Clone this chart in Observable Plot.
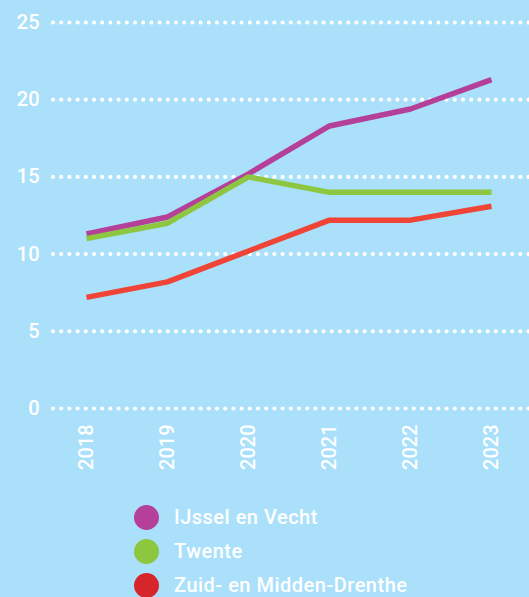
<!DOCTYPE html>
<html>
<head>
<meta charset="utf-8">
<script src="https://cdn.jsdelivr.net/npm/d3@7"></script>
<script src="https://cdn.jsdelivr.net/npm/@observablehq/plot@0.6"></script>
<style>
  html, body { margin: 0; padding: 0; background: #abe0fb; overflow: hidden; }
  body { width: 529px; height: 597px; font-family: Roboto, "DejaVu Sans", sans-serif; }
  #legend { margin-top: 20px; padding-left: 134px; }
  .item { display: flex; align-items: center; height: 34px; color: #fff; font-size: 20px; font-weight: 500; letter-spacing: 0.5px; }
  .dot { width: 25px; height: 25px; border-radius: 50%; margin-right: 15px; flex: none; }
</style>
</head>
<body>
<div id="chart"></div>
<div id="legend"></div>
<script>
const years = [2018, 2019, 2020, 2021, 2022, 2023];
const seriesNames = ["IJssel en Vecht", "Twente", "Zuid- en Midden-Drenthe"];
const ijsselVecht = [11.3, 12.4, 15.2, 18.3, 19.4, 21.3];
const twente = [11.0, 12.0, 15.0, 14.0, 14.0, 14.0];
const zuidMiddenDrenthe = [7.2, 8.2, 10.2, 12.2, 12.2, 13.1];
const lineColors = ["#b5409a", "#8dc63f", "#f04437"];
const legendColors = ["#b5409a", "#8dc63f", "#d6252b"];
const yTicks = [0, 5, 10, 15, 20, 25];

const allValues = [ijsselVecht, twente, zuidMiddenDrenthe];
const data = [];
seriesNames.forEach((name, i) => {
  years.forEach((yr, j) => data.push({series: name, year: yr, value: allValues[i][j]}));
});

const chart = Plot.plot({
  width: 529,
  height: 480,
  marginTop: 22,
  marginBottom: 72,
  marginLeft: 53,
  marginRight: 0,
  style: {background: "transparent", color: "#fff", fontFamily: "Roboto, 'DejaVu Sans', sans-serif", fontSize: "20px", fontWeight: 500},
  x: {type: "point", domain: years, range: [86, 491], padding: 0},
  y: {domain: [0, 25], ticks: yTicks},
  color: {domain: seriesNames, range: lineColors},
  marks: [
    Plot.ruleY(yTicks, {stroke: "#fff", strokeWidth: 4.2, strokeDasharray: "0,8.2", strokeLinecap: "round", strokeOpacity: 1}),
    Plot.axisY({ticks: yTicks, tickSize: 0, tickPadding: 14, label: null, fill: "#fff", fontSize: 20}),
    Plot.axisX({tickSize: 0, tickRotate: -90, tickPadding: 16, label: null, fill: "#fff", fontSize: 20, tickFormat: d => String(d)}),
    Plot.line(data, {x: "year", y: "value", z: "series", stroke: "series", strokeWidth: 5.5, strokeLinejoin: "miter", strokeLinecap: "butt"})
  ]
});
document.getElementById("chart").appendChild(chart);

const legend = document.getElementById("legend");
seriesNames.forEach((name, i) => {
  const row = document.createElement("div");
  row.className = "item";
  const dot = document.createElement("span");
  dot.className = "dot";
  dot.style.background = legendColors[i];
  const label = document.createElement("span");
  label.textContent = name;
  row.appendChild(dot);
  row.appendChild(label);
  legend.appendChild(row);
});
</script>
</body>
</html>
